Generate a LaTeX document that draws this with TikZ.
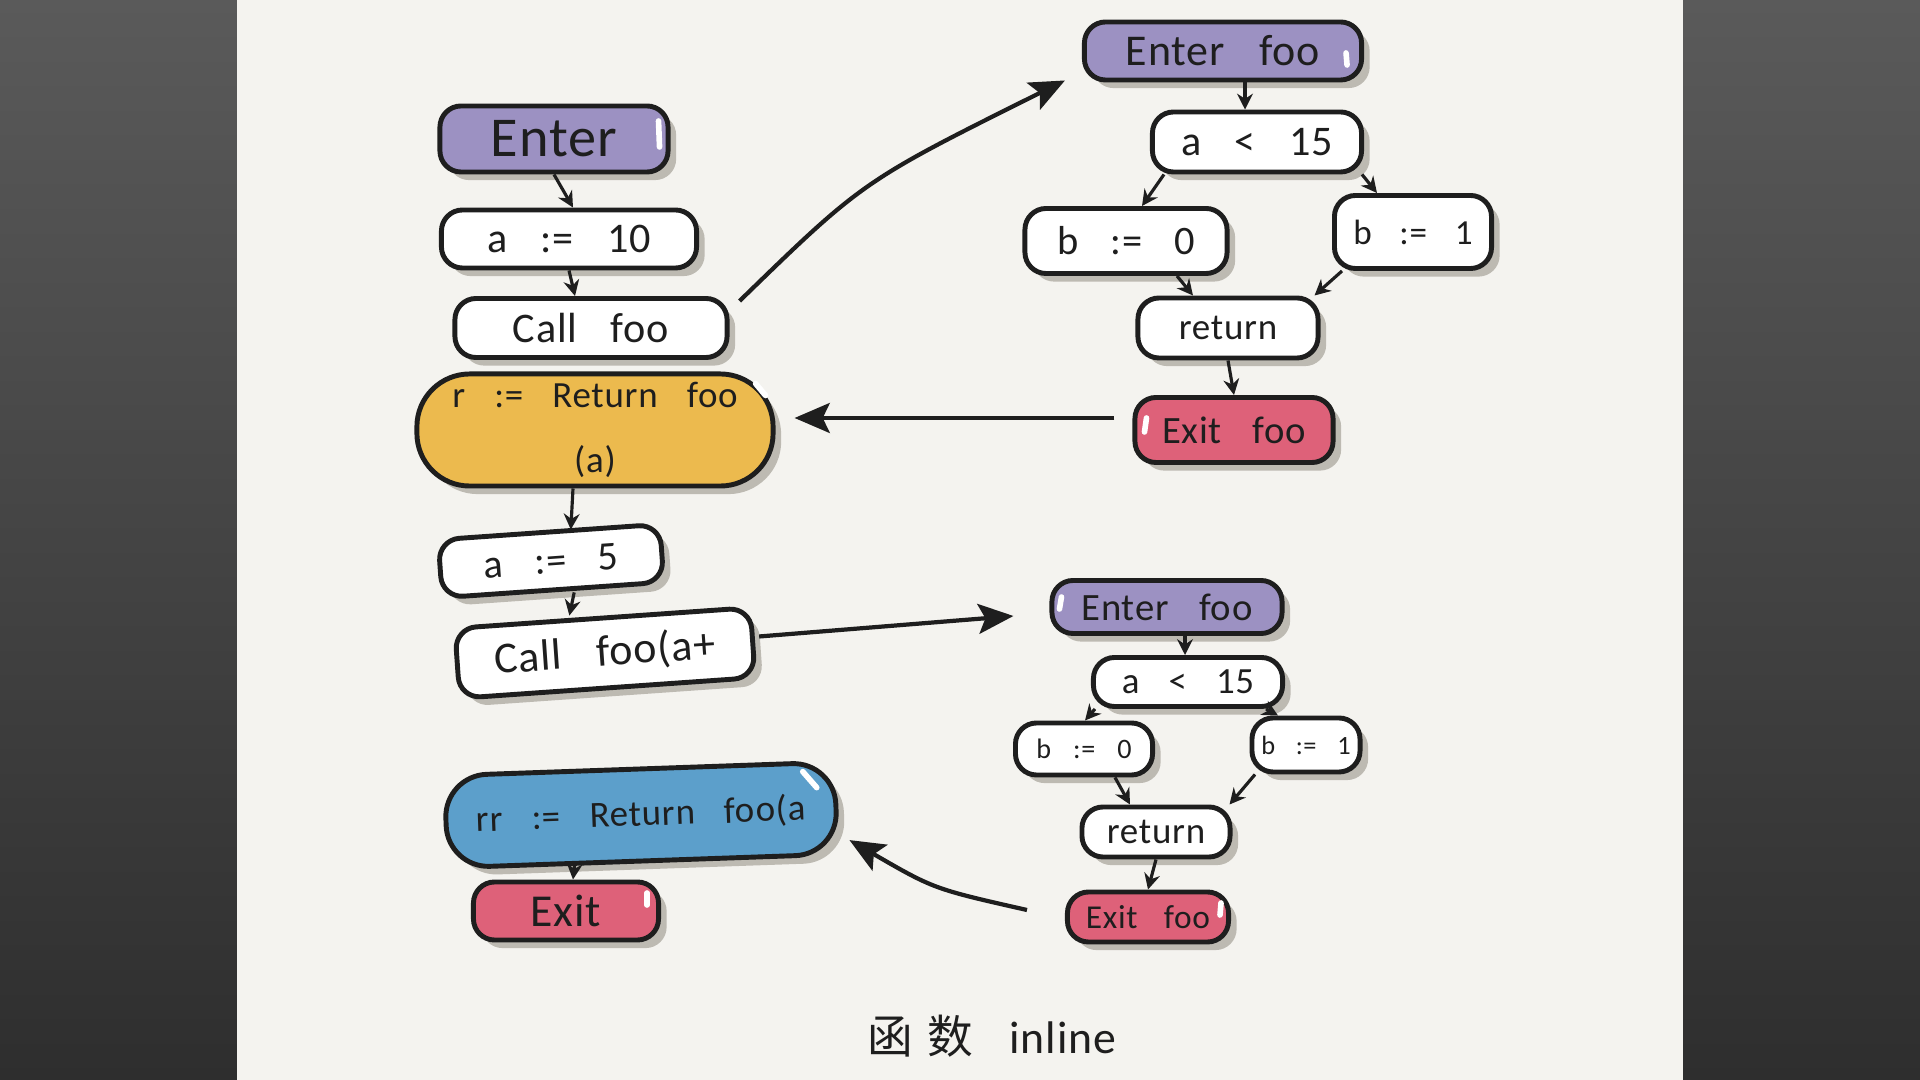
\documentclass[tikz,border=0pt]{standalone}
\usepackage{fontspec}
\setmainfont{Carlito}[LetterSpace=2,WordSpace=3.2]
\newfontfamily\cjk{Noto Sans CJK SC}
\usetikzlibrary{positioning,calc,arrows.meta,shadows}
\definecolor{inkBlack}{HTML}{1E1E1E}
\definecolor{paperWhite}{HTML}{F4F3EF}
\definecolor{shadowGrey}{HTML}{BDBAB2}
\definecolor{bgTop}{HTML}{5A5A5A}
\definecolor{bgBottom}{HTML}{2E2E2E}
\definecolor{enterPurple}{HTML}{9C91C2}
\definecolor{returnYellow}{HTML}{ECBA4E}
\definecolor{returnBlue}{HTML}{5C9FCB}
\definecolor{exitRed}{HTML}{DE6179}
\newcommand{\fsz}[1]{\fontsize{#1}{#1}\selectfont}

\begin{document}
\begin{tikzpicture}[x=0.01cm, y=-0.01cm,
  box/.style={draw=inkBlack, fill=white, line width=1.4pt, rounded corners=6pt,
    inner sep=0pt, text=inkBlack,
    drop shadow={shadow xshift=2.3pt, shadow yshift=-2.3pt, fill=shadowGrey, opacity=1}},
  flow/.style={draw=inkBlack, line width=0.9pt, -{Stealth[length=4.5pt,width=4.5pt]}},
  jump/.style={draw=inkBlack, line width=1.2pt, -{Stealth[length=10pt,width=8.5pt,inset=2pt]}},
  glint/.style={draw=white, line width=1.6pt, line cap=round}]

\useasboundingbox (0,0) rectangle (1920,1080);

% --- BACKGROUND (desk + sheet) ---
\shade[top color=bgTop, bottom color=bgBottom] (0,0) rectangle (1920,1080);
\fill[paperWhite] (237,0) rectangle (1683,1080);

% --- CALLER (left column) ---
\node[box, fill=enterPurple, minimum width=2.28cm, minimum height=0.66cm, font=\fsz{16}]
  (enter) at (554,139) {Enter};
\node[box, minimum width=2.55cm, minimum height=0.58cm, font=\fsz{12}]
  (aTen) at (569,239) {a := 10};
\node[box, minimum width=2.72cm, minimum height=0.59cm, font=\fsz{12}]
  (callA) at (591,328) {Call foo};
\node[box, fill=returnYellow, rounded corners=15pt, minimum width=3.56cm, minimum height=1.12cm,
  align=center, font=\fsz{10.5}]
  (retR) at (595,430) {r := Return foo\\[8pt](a)};
\node[box, rotate=4, minimum width=2.22cm, minimum height=0.58cm, font=\fsz{11.5}]
  (aFive) at (551,561) {a := 5};
\node[box, rotate=4, minimum width=2.96cm, minimum height=0.70cm, font=\fsz{12.5}]
  (callB) at (605,653) {Call foo(a+};
\node[box, fill=returnBlue, rotate=2, rounded corners=12pt, minimum width=3.90cm,
  minimum height=0.92cm, font=\fsz{10.5}]
  (retRR) at (641,815) {rr := Return foo(a};
\node[box, fill=exitRed, minimum width=1.85cm, minimum height=0.58cm, font=\fsz{13}]
  (exit) at (566,911) {Exit};

% --- INLINED BODY, FIRST CALL (top right) ---
\node[box, fill=enterPurple, minimum width=2.77cm, minimum height=0.58cm, font=\fsz{12.5}]
  (enterA) at (1223,51) {Enter foo};
\node[box, minimum width=2.09cm, minimum height=0.60cm, font=\fsz{12}]
  (ltA) at (1257,142) {a < 15};
\node[box, minimum width=2.02cm, minimum height=0.65cm, font=\fsz{11.5}]
  (bZeroA) at (1126,241) {b := 0};
\node[box, minimum width=1.57cm, minimum height=0.73cm, font=\fsz{10}]
  (bOneA) at (1413,232) {b := 1};
\node[box, minimum width=1.80cm, minimum height=0.60cm, font=\fsz{10.5}]
  (retA) at (1228,328) {return};
\node[box, fill=exitRed, minimum width=1.98cm, minimum height=0.65cm, font=\fsz{11}]
  (exitA) at (1234,430) {Exit foo};

% --- INLINED BODY, SECOND CALL (bottom right) ---
\node[box, fill=enterPurple, minimum width=2.30cm, minimum height=0.53cm, font=\fsz{11}]
  (enterB) at (1167,607) {Enter foo};
\node[box, minimum width=1.89cm, minimum height=0.49cm, font=\fsz{10.5}]
  (ltB) at (1188,682) {a < 15};
\node[box, minimum width=1.37cm, minimum height=0.52cm, font=\fsz{8}]
  (bZeroB) at (1084,749) {b := 0};
\node[box, minimum width=1.08cm, minimum height=0.54cm, font=\fsz{7.5}]
  (bOneB) at (1306,745) {b := 1};
\node[box, minimum width=1.48cm, minimum height=0.50cm, font=\fsz{10.5}]
  (retB) at (1156,832) {return};
\node[box, fill=exitRed, minimum width=1.61cm, minimum height=0.50cm, font=\fsz{9.5}]
  (exitB) at (1148,917) {Exit foo};

% --- CAPTION ---
\node[text=inkBlack, font=\fsz{13}] (caption) at (992,1036)
  {{\cjk 函\hspace{0.3em}数}\hspace{0.8em}inline};

% --- GLINTS ON THE COLOURED BOXES ---
\draw[glint] ($(enter.east)+(-12,-18)$) -- ++(1,26);
\draw[glint] ($(enterA.east)+(-18,2)$) -- ++(1,12);
\draw[glint] ($(exitA.west)+(14,-12)$) -- ++(-2,14);
\draw[glint] ($(retR.north east)+(-20,12)$) -- ++(10,12);
\draw[glint] ($(retRR.north east)+(-34,12)$) -- ++(14,16);
\draw[glint] ($(exit.east)+(-14,-18)$) -- ++(0,12);
\draw[glint] ($(enterB.west)+(12,-10)$) -- ++(-2,12);
\draw[glint] ($(exitB.east)+(-10,-14)$) -- ++(-1,12);

% --- FLOW, LEFT COLUMN ---
\draw[flow] (enter.south) -- ($(aTen.north)+(4,0)$);
\draw[flow] (aTen.south) -- ($(callA.north)+(-16,0)$);
\draw[flow] ($(retR.south)+(-22,0)$) -- ($(aFive.north)+(22,0)$);
\draw[flow] ($(aFive.south)+(21,0)$) -- ($(callB.north)+(-33,0)$);
\draw[flow] ($(retRR.south)+(-68,0)$) -- ($(exit.north)+(7,0)$);

% --- FLOW, FIRST BODY ---
\draw[flow] ($(enterA.south)+(22,0)$) -- ($(ltA.north)+(-12,0)$);
\draw[flow] ($(ltA.south west)+(14,0)$) -- ($(bZeroA.north)+(16,0)$);
\draw[flow] ($(ltA.south east)+(-2,0)$) -- ($(bOneA.north)+(-36,0)$);
\draw[flow] ($(bZeroA.south)+(51,0)$) -- ($(retA.north)+(-35,0)$);
\draw[flow] ($(bOneA.south)+(-71,0)$) -- ($(retA.north east)+(-6,0)$);
\draw[flow] (retA.south) -- (exitA.north);

% --- FLOW, SECOND BODY ---
\draw[flow] ($(enterB.south)+(18,0)$) -- ($(ltB.north)+(-3,0)$);
\draw[flow] ($(ltB.south west)+(4,0)$) -- ($(bZeroB.north)+(1,0)$);
\draw[flow] ($(ltB.south east)+(-19,0)$) -- ($(bOneB.north)+(-28,0)$);
\draw[flow] ($(bZeroB.south)+(31,0)$) -- ($(retB.north)+(-26,0)$);
\draw[flow] ($(bOneB.south)+(-51,0)$) -- ($(retB.north east)+(-3,0)$);
\draw[flow] (retB.south) -- (exitB.north);

% --- CALL / RETURN JUMPS ---
\draw[jump] ($(callA.north east)+(10,5)$) .. controls (863,181) .. ($(enterA.south west)+(-17,-2)$);
\draw[jump] ($(exitA.west)+(-18,-12)$) -- ($(retR.east)+(19,-12)$);
\draw[jump] ($(callB.east)+(4,-6)$) -- ($(enterB.west)+(-36,9)$);
\draw[jump] ($(exitB.west)+(-38,-7)$) .. controls (934,889) .. ($(retRR.east)+(11,32)$);

\end{tikzpicture}
\end{document}
